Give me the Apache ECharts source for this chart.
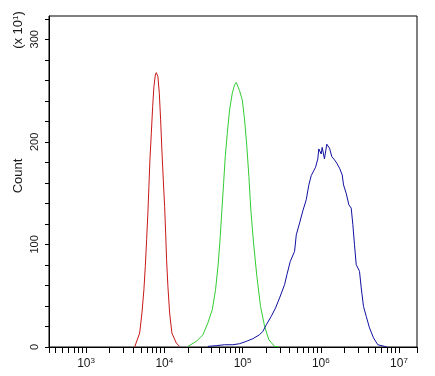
<!DOCTYPE html>
<html>
<head>
<meta charset="utf-8">
<script src="https://cdn.jsdelivr.net/npm/echarts@6/dist/echarts.min.js"></script>
<style>
html,body{margin:0;padding:0;background:#fff}
#main{width:435px;height:376px}
</style>
</head>
<body>
<div id="main"></div>
<script>
// x values are log10 of the fluorescence intensity, y values are counts (x10)
var redLog   = [3.621,3.685,3.714,3.739,3.757,3.774,3.790,3.803,3.816,3.834,3.851,3.867,3.885,3.898,3.918,3.936,3.953,3.969,3.987,4.004,4.017,4.029,4.046,4.068,4.097,4.153,4.195];
var redCount = [0,13.6,33.1,55.8,78.5,104.5,130.5,156.4,182.4,208.4,234.3,253.8,265.2,267.5,263.6,247.4,221.4,192.2,163.0,136.9,111.0,85.0,59.0,33.1,13.6,3.9,0.6];

var greenLog   = [4.302,4.409,4.493,4.557,4.613,4.655,4.690,4.715,4.736,4.758,4.779,4.805,4.834,4.869,4.898,4.920,4.962,4.997,5.026,5.055,5.081,5.106,5.141,5.183,5.230,5.282,5.336,5.409,5.464];
var greenCount = [0.6,5.5,11.8,23.4,36.4,55.8,81.8,107.7,133.7,159.7,185.6,208.4,231.1,247.4,255.6,257.9,249.9,240.7,221.4,195.4,166.2,133.7,101.3,68.8,39.6,20.1,7.1,0.6,0];

var blueLog   = [4.557,4.664,4.770,4.876,4.962,5.048,5.132,5.218,5.260,5.304,5.367,5.422,5.473,5.537,5.567,5.610,5.665,5.687,5.729,5.771,5.814,5.848,5.878,5.933,5.962,5.975,6.005,6.018,6.047,6.077,6.112,6.141,6.176,6.205,6.240,6.274,6.291,6.325,6.359,6.389,6.410,6.431,6.453,6.495,6.517,6.546,6.581,6.623,6.674,6.729,6.815,6.844];
var blueCount = [0.6,1.3,2.2,2.2,3.2,5.5,8.1,12.0,15.3,21.7,29.9,38.1,47.8,60.7,70.5,83.4,93.2,109.4,120.8,132.8,143.5,158.2,167.1,175.2,183.4,193.1,188.2,194.6,183.4,197.7,193.8,185.6,182.4,179.2,174.3,167.8,158.0,149.9,138.6,135.4,119.2,99.7,80.3,73.8,57.6,39.6,29.9,18.6,8.9,2.2,0.6,0];

var xMin = 2.526, xMax = 7.23;
var yMax = 322.7;
var xLabelDecades = [3, 4, 5, 6, 7];
var yTicks = [0,20,40,60,80,100,120,140,160,180,200,220,240,260,280,300,320];
var yLabels = [0, 100, 200, 300];

function pairs(xs, ys) {
  var out = [];
  for (var i = 0; i < xs.length; i++) out.push([xs[i], ys[i]]);
  return out;
}

// log-style ticks: 1..9 x 10^n
var xTicks = [xMin];
for (var n = 2; n <= 7; n++) {
  for (var k = 1; k <= 9; k++) {
    var v = n + Math.log10(k);
    if (v > xMin && v < xMax) xTicks.push(v);
  }
}
xTicks.push(xMax);

var txt = '#1a1a1a';
var fam = 'Liberation Sans, Arial, sans-serif';

var chart = echarts.init(document.getElementById('main'));
chart.setOption({
  animation: false,
  backgroundColor: '#fff',
  grid: {left: 49, right: 18, top: 16, bottom: 29, show: true, borderColor: '#000', borderWidth: 1},
  xAxis: {
    type: 'value', min: xMin, max: xMax,
    axisLine: {lineStyle: {color: '#000', width: 1}},
    axisTick: {customValues: xTicks, length: 6, lineStyle: {color: '#000'}},
    axisLabel: {
      customValues: xLabelDecades, margin: 10, color: txt, fontFamily: fam, fontSize: 12,
      formatter: function (v) { return '{b|10}{s|' + v + '}'; },
      rich: {
        b: {fontSize: 12, fontFamily: fam, color: txt, lineHeight: 14},
        s: {fontSize: 8, fontFamily: fam, color: txt, verticalAlign: 'top', lineHeight: 8}
      }
    },
    splitLine: {show: false}
  },
  yAxis: {
    type: 'value', min: 0, max: yMax,
    axisLine: {lineStyle: {color: '#000', width: 1}},
    axisTick: {customValues: yTicks, length: 4, lineStyle: {color: '#000'}},
    axisLabel: {customValues: yLabels, rotate: 90, margin: 9, color: txt, fontFamily: fam, fontSize: 11},
    splitLine: {show: false}
  },
  graphic: [
    {type: 'text', x: 18, y: 30, rotation: Math.PI / 2,
     style: {text: '(x 10{s|1})', fontSize: 13, fontFamily: fam, fill: txt, align: 'center', verticalAlign: 'middle',
       rich: {s: {fontSize: 8, fontFamily: fam, fill: txt, verticalAlign: 'top'}}}},
    {type: 'text', x: 18, y: 176, rotation: Math.PI / 2,
     style: {text: 'Count', fontSize: 13, fontFamily: fam, fill: txt, align: 'center', verticalAlign: 'middle'}}
  ],
  series: [
    {type: 'line', data: pairs(redLog, redCount), showSymbol: false, lineStyle: {color: '#c81818', width: 1}},
    {type: 'line', data: pairs(greenLog, greenCount), showSymbol: false, lineStyle: {color: '#33cc33', width: 1}},
    {type: 'line', data: pairs(blueLog, blueCount), showSymbol: false, lineStyle: {color: '#1010a0', width: 1}}
  ]
});
</script>
</body>
</html>
